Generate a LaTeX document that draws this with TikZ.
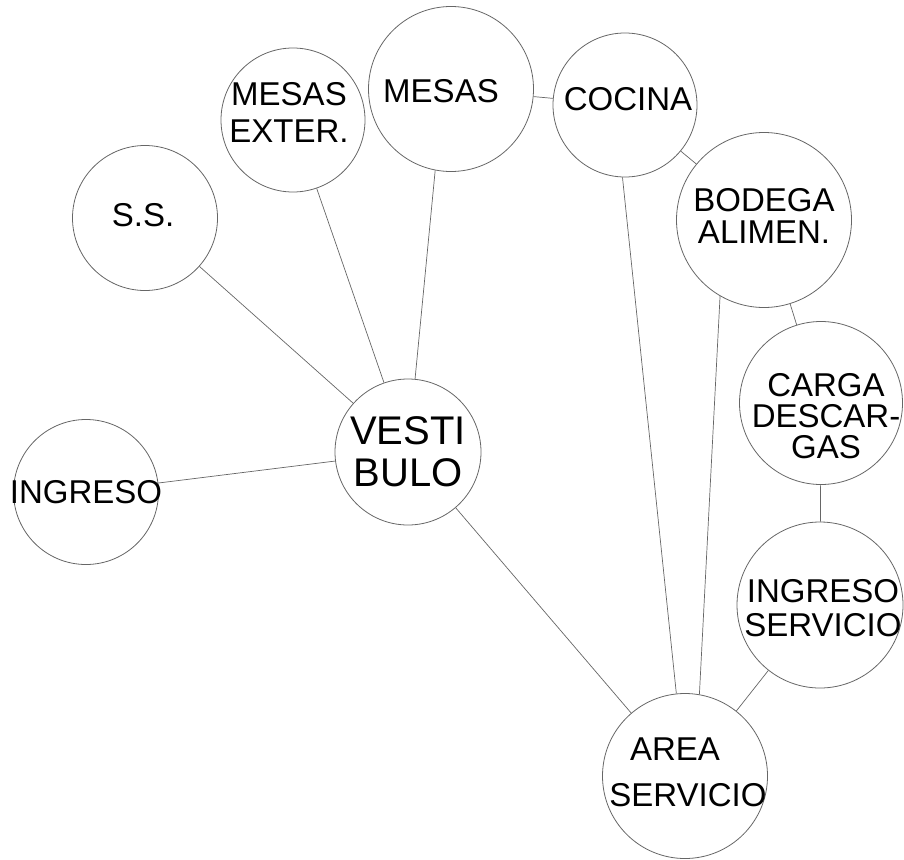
\documentclass[tikz,border=0pt]{standalone}
\usepackage{fontspec}
\setmainfont{Liberation Sans}
\tikzstyle{room} = [
    circle,
    draw=black!60,
    line width=0.8pt,
    inner sep=0pt
]
\tikzstyle{roomtext} = [
    align=center,
    text=black,
    font=\fontsize{33}{34}\selectfont
]
\tikzstyle{link} = [draw=black!60, line width=0.7pt]

\begin{document}
\begin{tikzpicture}[x=1pt, y=-1pt]
\useasboundingbox (0,0) rectangle (904,859);

\node (ingreso) [room, minimum size=145,
  label={[roomtext]center:INGRESO}] at (86,492) {};

\node (vest) [room, minimum size=146,
  label={[roomtext, font=\fontsize{40}{42}\selectfont]center:VESTI\\BULO}] at (408,452) {};

\node (ss) [room, minimum size=145,
  label={[roomtext, xshift=-2, yshift=3]center:S.S.}] at (145,218) {};

\node (mext) [room, minimum size=144,
  label={[roomtext, font=\fontsize{33}{37}\selectfont, xshift=-4, yshift=8]center:MESAS\\EXTER.}] at (293,120) {};

\node (mesas) [room, minimum size=165,
  label={[roomtext, xshift=-10, yshift=-2]center:MESAS}] at (451,89) {};

\node (cocina) [room, minimum size=144,
  label={[roomtext, xshift=3, yshift=6]center:COCINA}] at (625,105) {};

\node (bodega) [room, minimum size=175,
  label={[roomtext, font=\fontsize{33}{32}\selectfont, yshift=4]center:BODEGA\\ALIMEN.}] at (764,220) {};

\node (carga) [room, minimum size=163,
  label={[roomtext, font=\fontsize{33}{31}\selectfont, xshift=5, yshift=-13]center:CARGA\\DESCAR-\\GAS}] at (821,403) {};

\node (ingserv) [room, minimum size=166,
  label={[roomtext, xshift=3, yshift=-3]center:INGRESO\\SERVICIO}] at (820,605) {};

\node (area) [room, minimum size=165,
  label={[roomtext, font=\fontsize{33}{46}\selectfont, xshift=3, yshift=4]center:\hspace*{-26pt}AREA\\SERVICIO}] at (685,776) {};

% Links
\draw [link] (ingreso) -- (vest);
\draw [link] (ss) -- (vest);
\draw [link] (mext) -- (vest);
\draw [link] (mesas.259) -- (vest);
\draw [link] (mesas) -- (cocina);
\draw [link] (cocina) -- (bodega);
\draw [link] (bodega) -- (carga);
\draw [link] (carga) -- (ingserv);
\draw [link] (ingserv) -- (area);
\draw [link] (vest) -- (area);
\draw [link] (cocina.268) -- (area.96);
\draw [link] (bodega.240) -- (area.80);

\end{tikzpicture}
\end{document}
